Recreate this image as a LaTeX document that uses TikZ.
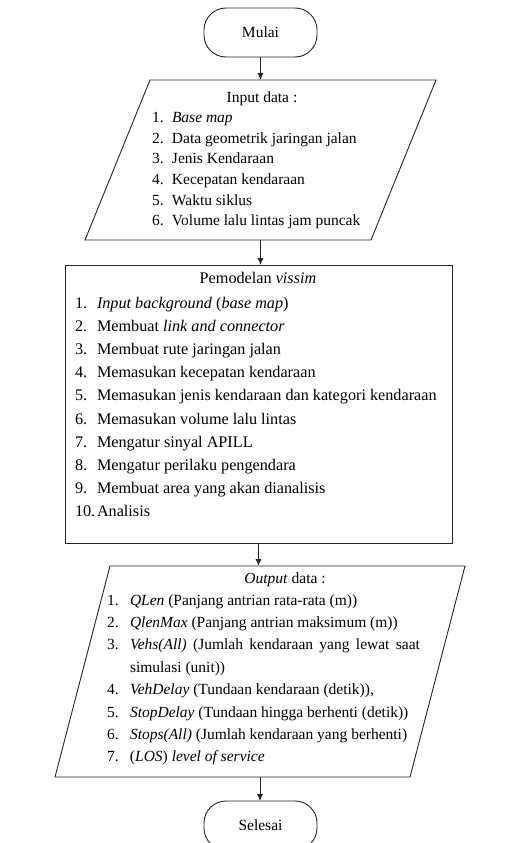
\documentclass[tikz,border=0pt]{standalone}
\usepackage{fontspec}
\setmainfont{Liberation Serif}
\usetikzlibrary{arrows.meta,calc}
\begin{document}
\begin{tikzpicture}[x=1pt,y=-1pt,
  every node/.style={font=\fontsize{15.5}{18}\selectfont, inner sep=0pt, outer sep=0pt},
  shapeline/.style={draw=black!85, line width=0.9pt},
  term/.style={shapeline, rounded corners=22pt, minimum width=113pt, minimum height=49pt},
  conn/.style={draw=black!85, line width=0.9pt, -{Latex[length=7pt,width=6pt]}},
  txt/.style={anchor=base west},
  ttl/.style={anchor=base},
  big/.style={font=\fontsize{16.2}{19}\selectfont}
]
\useasboundingbox (0,0) rectangle (505,843);
\clip (0,0) rectangle (505,843);

% start
\node[term] (start) at (260.5,32.5) {Mulai};

% input parallelogram
\node[minimum width=351pt, minimum height=160pt] (inp) at (260.5,160) {};
\draw[shapeline] ($(inp.north west)+(65,0)$) -- (inp.north east) -- ($(inp.south east)+(-65,0)$) -- (inp.south west) -- cycle;
\node[ttl] (inT) at (262,102) {Input data :};
\node[txt] (in1) at (152,122.6) {\makebox[20pt][l]{1.}\textit{Base map}};
\node[txt] (in2) at (152,143.2) {\makebox[20pt][l]{2.}Data geometrik jaringan jalan};
\node[txt] (in3) at (152,163.8) {\makebox[20pt][l]{3.}Jenis Kendaraan};
\node[txt] (in4) at (152,184.4) {\makebox[20pt][l]{4.}Kecepatan kendaraan};
\node[txt] (in5) at (152,205) {\makebox[20pt][l]{5.}Waktu siklus};
\node[txt] (in6) at (152,225.6) {\makebox[20pt][l]{6.}Volume lalu lintas jam puncak};

% process
\node[shapeline, minimum width=387pt, minimum height=278pt] (proc) at (258.5,404) {};
\node[ttl, big] (prT) at (258,283) {Pemodelan \textit{vissim}};
\node[txt, big] (pr1) at (75,308) {\makebox[22pt][l]{1.}\textit{Input background} (\textit{base map})};
\node[txt, big] (pr2) at (75,331.2) {\makebox[22pt][l]{2.}Membuat \textit{link and connector}};
\node[txt, big] (pr3) at (75,354.4) {\makebox[22pt][l]{3.}Membuat rute jaringan jalan};
\node[txt, big] (pr4) at (75,377.6) {\makebox[22pt][l]{4.}Memasukan kecepatan kendaraan};
\node[txt, big] (pr5) at (75,400.8) {\makebox[22pt][l]{5.}Memasukan jenis kendaraan dan kategori kendaraan};
\node[txt, big] (pr6) at (75,424) {\makebox[22pt][l]{6.}Memasukan volume lalu lintas};
\node[txt, big] (pr7) at (75,447.2) {\makebox[22pt][l]{7.}Mengatur sinyal APILL};
\node[txt, big] (pr8) at (75,470.4) {\makebox[22pt][l]{8.}Mengatur perilaku pengendara};
\node[txt, big] (pr9) at (75,493.6) {\makebox[22pt][l]{9.}Membuat area yang akan dianalisis};
\node[txt, big] (pr10) at (75,516.8) {\makebox[22pt][l]{10.}Analisis};

% output parallelogram
\node[minimum width=410pt, minimum height=211pt] (out) at (260,671.5) {};
\draw[shapeline] ($(out.north west)+(55,0)$) -- (out.north east) -- ($(out.south east)+(-55,0)$) -- (out.south west) -- cycle;
\node[ttl] (ouT) at (285,583) {\textit{Output} data :};
\node[txt] (ou1) at (107,605) {\makebox[23pt][l]{1.}\textit{QLen} (Panjang antrian rata-rata (m))};
\node[txt] (ou2) at (107,627.4) {\makebox[23pt][l]{2.}\textit{QlenMax} (Panjang antrian maksimum (m))};
\node[txt] (ou3) at (107,649.8) {\makebox[23pt][l]{3.}\makebox[290pt][s]{\textit{Vehs(All)} (Jumlah kendaraan yang lewat saat}};
\node[txt] (ou3b) at (130,672.2) {simulasi (unit))};
\node[txt] (ou4) at (107,694.6) {\makebox[23pt][l]{4.}\textit{VehDelay} (Tundaan kendaraan (detik)),};
\node[txt] (ou5) at (107,717) {\makebox[23pt][l]{5.}\textit{StopDelay} (Tundaan hingga berhenti (detik))};
\node[txt] (ou6) at (107,739.4) {\makebox[23pt][l]{6.}\textit{Stops(All)} (Jumlah kendaraan yang berhenti)};
\node[txt] (ou7) at (107,761.8) {\makebox[23pt][l]{7.}(\textit{LOS}) \textit{level of service}};

% end
\node[term] (end) at (260.5,825.5) {Selesai};

% connectors
\draw[conn] (start.south) -- (inp.north);
\draw[conn] (inp.south) -- (inp.south |- proc.north);
\draw[conn] (proc.south) -- (proc.south |- out.north);
\draw[conn] (out.south) -- (out.south |- end.north);
\end{tikzpicture}
\end{document}
